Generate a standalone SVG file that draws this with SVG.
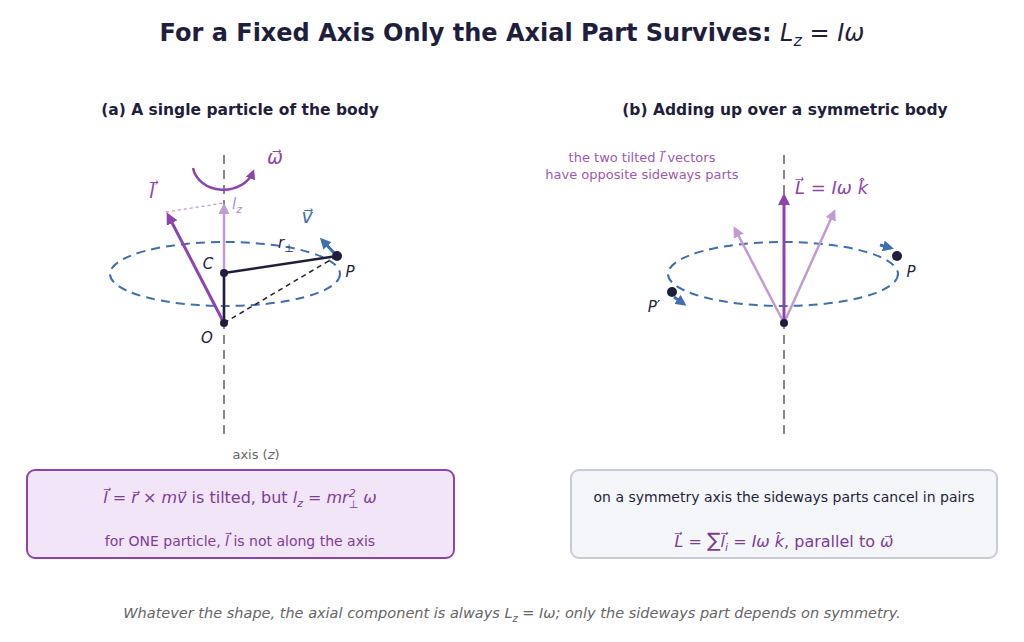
<svg xmlns="http://www.w3.org/2000/svg" width="1024" height="642" viewBox="0 0 1024 642">
<style>
text{font-family:"DejaVu Sans","Noto Sans",sans-serif}
.t{font-weight:bold;fill:#1f1f3d}
.axis{stroke:#888;stroke-width:2;stroke-dasharray:9,6;fill:none}
.orb{stroke:#3f6fb0;stroke-width:2;stroke-dasharray:9,6;fill:none}
.i{font-style:italic}
.pu{fill:#8e44ad}
.lp{fill:#b58fd0}
.dk{fill:#1f1f3d}
</style>
<defs>
<marker id="ap" markerWidth="10" markerHeight="10" refX="7" refY="5" orient="auto" markerUnits="userSpaceOnUse"><path d="M0,0L10,5L0,10z" fill="#8e44ad"/></marker>
<marker id="apb" markerWidth="12" markerHeight="12" refX="9" refY="6" orient="auto" markerUnits="userSpaceOnUse"><path d="M0,0L12,6L0,12z" fill="#8e44ad"/></marker>
<marker id="al" markerWidth="11" markerHeight="11" refX="8" refY="5.5" orient="auto" markerUnits="userSpaceOnUse"><path d="M0,0L11,5.5L0,11z" fill="#c39bd3"/></marker>
<marker id="ab" markerWidth="11" markerHeight="11" refX="8" refY="5.5" orient="auto" markerUnits="userSpaceOnUse"><path d="M0,0L11,5.5L0,11z" fill="#3f6fb0"/></marker>
</defs>
<rect width="1024" height="642" fill="#fff"/>
<text x="512" y="41" text-anchor="middle" font-size="24" class="t">For a Fixed Axis Only the Axial Part Survives: <tspan class="i" font-weight="normal">L<tspan font-size="16" dy="5">z</tspan><tspan dy="-5"> = Iω</tspan></tspan></text>
<text x="240" y="115" text-anchor="middle" font-size="15.5" class="t">(a) A single particle of the body</text>
<text x="785" y="115" text-anchor="middle" font-size="15.5" class="t">(b) Adding up over a symmetric body</text>

<g id="panel-a">
<line x1="224" y1="155" x2="224" y2="440" class="axis"/>
<ellipse cx="225" cy="274" rx="115" ry="32" class="orb"/>
<line x1="224" y1="323" x2="224" y2="206" stroke="#c39bd3" stroke-width="2.5" marker-end="url(#al)"/>
<line x1="166" y1="212" x2="224" y2="203" stroke="#c39bd3" stroke-width="1.3" stroke-dasharray="3,3"/>
<line x1="224" y1="323" x2="224" y2="273" stroke="#1f1f3d" stroke-width="2.5"/>
<line x1="224" y1="273" x2="337" y2="256" stroke="#1f1f3d" stroke-width="2.5"/>
<line x1="224" y1="323" x2="337" y2="256" stroke="#1f1f3d" stroke-width="1.5" stroke-dasharray="5,4"/>
<line x1="224" y1="323" x2="168" y2="215" stroke="#8e44ad" stroke-width="3" marker-end="url(#apb)"/>
<path d="M193,168 A31,26 0 0 0 253,172" fill="none" stroke="#8e44ad" stroke-width="2.5" marker-end="url(#ap)"/>
<line x1="337" y1="256" x2="322" y2="240" stroke="#3f6fb0" stroke-width="3" marker-end="url(#ab)"/>
<circle cx="224" cy="323" r="4" class="dk"/><circle cx="224" cy="273" r="4" class="dk"/><circle cx="337" cy="256" r="5" class="dk"/>
<text x="275" y="164" font-size="19" class="i pu" text-anchor="middle">ω⃗</text>
<text x="152" y="198" font-size="19" class="i pu" text-anchor="middle">l⃗</text>
<text x="232" y="209" font-size="15" class="i lp">l<tspan font-size="11" dy="4">z</tspan></text>
<text x="307" y="223" font-size="19" class="i" fill="#3f6fb0" text-anchor="middle">v⃗</text>
<text x="278" y="248" font-size="15" class="i dk">r<tspan font-size="11" dy="4" font-style="normal">⊥</tspan></text>
<text x="208" y="269" font-size="15" class="i dk" text-anchor="middle">C</text>
<text x="350" y="277" font-size="15" class="i dk" text-anchor="middle">P</text>
<text x="207" y="343" font-size="15" class="i dk" text-anchor="middle">O</text>
<text x="256" y="459" font-size="13" fill="#666" text-anchor="middle">axis (<tspan class="i">z</tspan>)</text>
</g>

<g id="panel-b">
<line x1="784" y1="155" x2="784" y2="440" class="axis"/>
<ellipse cx="783" cy="274" rx="115" ry="32" class="orb"/>
<line x1="784" y1="323" x2="735" y2="229" stroke="#c39bd3" stroke-width="2.5" marker-end="url(#al)"/>
<line x1="784" y1="323" x2="834" y2="212" stroke="#c39bd3" stroke-width="2.5" marker-end="url(#al)"/>
<line x1="784" y1="323" x2="784" y2="196" stroke="#8e44ad" stroke-width="3" marker-end="url(#apb)"/>
<line x1="880" y1="245" x2="891" y2="248" stroke="#3f6fb0" stroke-width="3" marker-end="url(#ab)"/>
<line x1="674" y1="297" x2="684" y2="304" stroke="#3f6fb0" stroke-width="3" marker-end="url(#ab)"/>
<circle cx="784" cy="323" r="4" class="dk"/><circle cx="897" cy="256" r="5" class="dk"/><circle cx="672" cy="292" r="5" class="dk"/>
<text x="911" y="277" font-size="15" class="i dk" text-anchor="middle">P</text>
<text x="654" y="312" font-size="15" class="i dk" text-anchor="middle">P′</text>
<text x="795" y="194" font-size="18" class="i pu">L⃗ = Iω k̂</text>
<text x="642" y="162" font-size="13" fill="#9b59b6" text-anchor="middle">the two tilted <tspan class="i">l⃗</tspan> vectors</text>
<text x="642" y="179" font-size="13" fill="#9b59b6" text-anchor="middle">have opposite sideways parts</text>
</g>

<g id="box-a">
<rect x="27" y="470" width="427" height="88" rx="8" fill="#f3e5f8" stroke="#8e44ad" stroke-width="2"/>
<text x="240" y="503" font-size="16" fill="#7d3c98" text-anchor="middle"><tspan class="i">l⃗ = r⃗ × mv⃗</tspan> is tilted, but <tspan class="i">l<tspan font-size="11" dy="4">z</tspan><tspan dy="-4"> = mr</tspan><tspan font-size="11" dy="-6">2</tspan><tspan font-size="11" dx="-7" dy="11">⊥</tspan><tspan dy="-5"> ω</tspan></tspan></text>
<text x="240" y="546" font-size="14" fill="#7d3c98" text-anchor="middle">for ONE particle, <tspan class="i">l⃗</tspan> is not along the axis</text>
</g>
<g id="box-b">
<rect x="571" y="470" width="426" height="88" rx="8" fill="#f4f6fa" stroke="#c9ccd6" stroke-width="2"/>
<text x="784" y="502" font-size="14" class="dk" text-anchor="middle">on a symmetry axis the sideways parts cancel in pairs</text>
<text x="784" y="547" font-size="16" fill="#7d3c98" text-anchor="middle"><tspan class="i">L⃗ = </tspan><tspan font-size="20">∑</tspan><tspan class="i">l⃗<tspan font-size="11" dy="4">i</tspan><tspan dy="-4"> = Iω k̂</tspan></tspan>,  parallel to <tspan class="i">ω⃗</tspan></text>
</g>
<text x="512" y="618" font-size="14.5" fill="#666" class="i" text-anchor="middle">Whatever the shape, the axial component is always L<tspan font-size="10" dy="4">z</tspan><tspan dy="-4"> = Iω; only the sideways part depends on symmetry.</tspan></text>
</svg>
